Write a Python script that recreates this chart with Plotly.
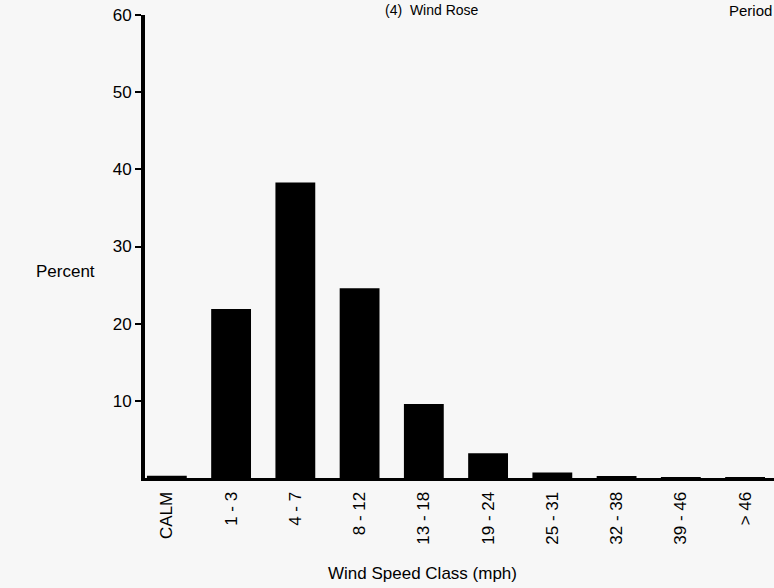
import plotly.graph_objects as go

categories = ["CALM", "1 - 3", "4 - 7", "8 - 12", "13 - 18", "19 - 24",
              "25 - 31", "32 - 38", "39 - 46", "> 46"]
percent = [0.3, 21.9, 38.3, 24.6, 9.6, 3.2, 0.7, 0.2, 0.1, 0.05]
y_ticks = [10, 20, 30, 40, 50, 60]

FONT = "Liberation Sans, Arial, sans-serif"

fig = go.Figure()
fig.add_trace(go.Bar(
    x=list(range(len(categories))),
    y=percent,
    width=0.62,
    marker=dict(color="black", line=dict(width=0)),
))

fig.update_layout(
    width=774, height=588,
    margin=dict(l=145, r=0, t=15, b=110),
    paper_bgcolor="#f7f7f7",
    plot_bgcolor="#f7f7f7",
    showlegend=False,
    font=dict(family=FONT, color="black", size=16),
    xaxis=dict(
        range=[-0.34, 9.45],
        tickmode="array",
        tickvals=list(range(len(categories))),
        ticktext=categories,
        tickangle=-90,
        tickfont=dict(size=17),
        showgrid=False, zeroline=False,
        showline=True, linecolor="black", linewidth=3,
        ticks="", ticklabelstandoff=4,
    ),
    yaxis=dict(
        range=[0, 60],
        tickmode="array",
        tickvals=y_ticks,
        tickfont=dict(size=17),
        ticklabeloverflow="allow",
        showgrid=False, zeroline=False,
        showline=True, linecolor="black", linewidth=4,
        ticks="outside", ticklen=6, tickwidth=2, tickcolor="black",
    ),
    annotations=[
        dict(text="Percent", xref="paper", yref="paper", x=-0.126, y=0.445,
             xanchor="center", yanchor="middle", showarrow=False,
             font=dict(size=17)),
        dict(text="Wind Speed Class (mph)", xref="paper", yref="paper",
             x=(422 - 145) / 629, y=0, yshift=-95,
             xanchor="center", yanchor="middle", showarrow=False,
             font=dict(size=17)),
        dict(text="(4)  Wind Rose", xref="paper", yref="paper", x=(432 - 145) / 629, y=1.0,
             xanchor="center", yanchor="top", yshift=15, showarrow=False,
             font=dict(size=14)),
        dict(text="Period", xref="paper", yref="paper", x=1.0, y=1.0,
             xanchor="right", yanchor="top", yshift=15, showarrow=False,
             font=dict(size=15)),
    ],
)

fig.write_html("out.html",
               config={"displayModeBar": False},
               post_script="document.body.style.margin='0';"
                           "document.body.style.background='#f7f7f7';")
